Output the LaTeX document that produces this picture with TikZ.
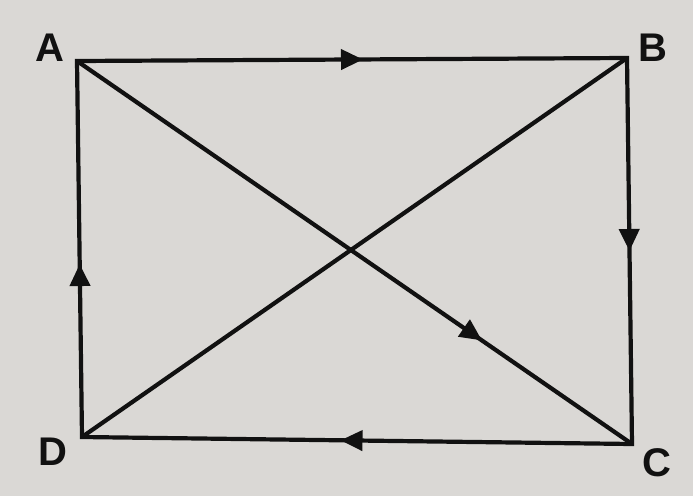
\documentclass[tikz,border=0pt]{standalone}
\usepackage{fontspec}
\setmainfont{Liberation Sans}
\usetikzlibrary{arrows.meta,decorations.markings}
\definecolor{paper}{HTML}{DAD8D5}
\definecolor{ink}{HTML}{111111}
\tikzset{
  edge/.style={draw=ink,line width=4.2pt},
  midarrow/.style={postaction={decorate,decoration={markings,
    mark=at position #1 with {\arrow{Triangle[length=22pt,width=20pt]}}}}},
  vlabel/.style={font=\fontsize{40}{40}\selectfont\bfseries,text=ink,inner sep=0pt}
}
\begin{document}
\begin{tikzpicture}[x=1pt,y=-1pt]
\fill[paper] (0,0) rectangle (693,496);
\useasboundingbox (0,0) rectangle (693,496);
\coordinate (A) at (77,61);
\coordinate (B) at (627,58);
\coordinate (C) at (632,444);
\coordinate (D) at (82,437);
\node[vlabel] (lA) at (50,48) {A};
\node[vlabel] (lB) at (653,48) {B};
\node[vlabel] (lC) at (657,463) {C};
\node[vlabel] (lD) at (53,452) {D};
\draw[edge,line join=miter] (A) -- (B) -- (C) -- (D) -- cycle;
\path[edge,draw=none,midarrow=0.52] (A) -- (B);
\path[edge,draw=none,midarrow=0.5] (B) -- (C);
\path[edge,draw=none,midarrow=0.53] (C) -- (D);
\path[edge,draw=none,midarrow=0.46] (D) -- (A);
\draw[edge,midarrow=0.73] (A) -- (C);
\draw[edge] (B) -- (D);
\end{tikzpicture}
\end{document}
